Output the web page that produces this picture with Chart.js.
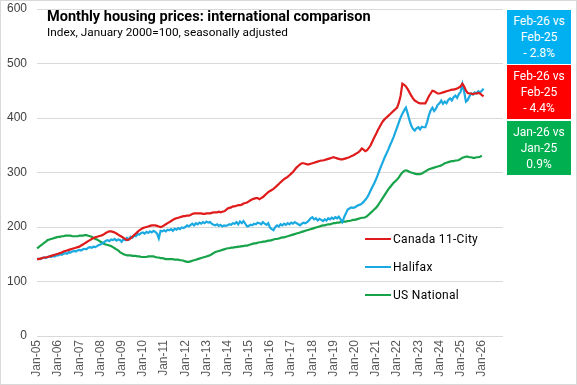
<!DOCTYPE html>
<html>
<head>
<meta charset="utf-8">
<script src="https://cdn.jsdelivr.net/npm/chart.js@4.4.1/dist/chart.umd.min.js"></script>
<style>
  html, body { margin: 0; padding: 0; background: #fff; }
  #wrap { position: relative; width: 577px; height: 385px; overflow: hidden; }
  #myChart { position: absolute; left: 0; top: 0; }
  .frame { position: absolute; left: 0; top: 0; width: 575px; height: 383px; border: 1px solid #d9d9d9; pointer-events: none; }
  .title { position: absolute; left: 47px; top: 10px; font: bold 14.5px Roboto, sans-serif; line-height: 1; color: #000; white-space: nowrap; }
  .subtitle { position: absolute; left: 47px; top: 27px; font: 11.8px Roboto, sans-serif; line-height: 1; color: #000; white-space: nowrap; }
  .legend { position: absolute; left: 365px; font: 12px Roboto, sans-serif; letter-spacing: 0.3px; color: #000; white-space: nowrap; line-height: 14px; }
  .legend span { display: inline-block; width: 26px; height: 2px; vertical-align: middle; margin-right: 2px; position: relative; top: -1px; }
  .box { position: absolute; left: 507px; width: 64px; height: 54px; color: #fff; font: 12px Roboto, sans-serif; line-height: 16px; text-align: center; padding-top: 3px; box-sizing: border-box; }
</style>
</head>
<body>
<div id="wrap">
  <canvas id="myChart" width="577" height="385"></canvas>
  <div class="title">Monthly housing prices: international comparison</div>
  <div class="subtitle">Index, January 2000=100, seasonally adjusted</div>
  <div class="legend" style="top:232px"><span style="background:#e01b1b"></span>Canada 11-City</div>
  <div class="legend" style="top:260px"><span style="background:#1ba9e1"></span>Halifax</div>
  <div class="legend" style="top:288px"><span style="background:#17a34a"></span>US National</div>
  <div class="box" style="top:10px;background:#00b0f0">Feb-26 vs<br>Feb-25<br>- 2.8%</div>
  <div class="box" style="top:65px;background:#ff0000">Feb-26 vs<br>Feb-25<br>- 4.4%</div>
  <div class="box" style="top:121px;background:#00b050">Jan-26 vs<br>Jan-25<br>0.9%</div>
  <div class="frame"></div>
</div>
<script>
const monthNames = ["Jan", "Feb", "Mar", "Apr", "May", "Jun", "Jul", "Aug", "Sep", "Oct", "Nov", "Dec"];
const lastTickLabel = "Jan-26";

// months Jan-05 .. Jan-27 (axis runs a bit past the data, like the original)
const months = [];
for (let y = 5; y <= 27; y++) {
  for (let m = 0; m < 12; m++) {
    if (y === 27 && m > 0) break;
    months.push(monthNames[m] + "-" + String(y).padStart(2, "0"));
  }
}

// Canada 11-City, Jan-05 .. Feb-26
const canada = [
  141, 141, 142, 143, 144, 144, 145, 146, 147, 148, 149, 150,
  151, 152, 153, 155, 156, 157, 158, 159, 160, 161, 162, 163,
  164, 166, 168, 170, 172, 174, 176, 178, 180, 181, 182, 183,
  184, 185, 187, 189, 191, 192, 192, 191, 190, 188, 186, 184,
  182, 180, 178, 176, 177, 179, 182, 185, 188, 191, 194, 196,
  198, 199, 200, 201, 202, 203, 203, 203, 202, 201, 200, 201,
  203, 205, 207, 209, 211, 213, 215, 216, 217, 218, 219, 220,
  220, 221, 221, 222, 224, 225, 225, 225, 225, 225, 224, 224,
  225, 225, 225, 226, 227, 227, 227, 228, 227, 228, 229, 231,
  234, 235, 236, 238, 238, 239, 240, 240, 241, 243, 244, 245,
  247, 249, 251, 252, 253, 253, 251, 253, 255, 258, 261, 264,
  266, 268, 270, 273, 276, 279, 282, 285, 288, 290, 292, 295,
  298, 301, 305, 309, 312, 315, 317, 317, 316, 315, 315, 316,
  317, 318, 319, 320, 321, 322, 322, 323, 324, 325, 326, 327,
  328, 327, 326, 325, 324, 324, 325, 326, 327, 328, 330, 331,
  333, 335, 337, 340, 344, 342, 339, 341, 345, 350, 357, 364,
  370, 377, 383, 389, 394, 398, 401, 404, 407, 410, 413, 416,
  419, 428, 441, 463, 461, 458, 453, 447, 441, 436, 432, 430,
  428, 427, 427, 427, 427, 433, 440, 445, 450, 449, 447, 445,
  445, 446, 447, 448, 449, 450, 451, 452, 452, 453, 454, 456,
  458, 463, 458, 450, 446, 445, 445, 444, 445, 445, 446, 445,
  442, 440
];

// Halifax, Jan-05 .. Feb-26
const halifax = [
  141, 142, 141, 143, 144, 143, 145, 146, 145, 147, 146, 148,
  148, 150, 149, 151, 152, 151, 154, 153, 155, 156, 155, 157,
  158, 157, 159, 160, 159, 162, 163, 162, 164, 163, 165, 167,
  168, 170, 172, 175, 176, 174, 177, 176, 178, 175, 177, 176,
  173, 178, 176, 180, 177, 182, 180, 184, 183, 187, 186, 189,
  190, 188, 191, 189, 192, 190, 193, 191, 188, 179, 193, 192,
  194, 192, 195, 194, 196, 193, 197, 195, 198, 196, 199, 198,
  200, 203, 201, 204, 206, 203, 207, 205, 208, 206, 209, 207,
  210, 208, 209, 206, 204, 203, 205, 202, 204, 201, 203, 202,
  203, 205, 204, 207, 206, 209, 205, 210, 207, 211, 206, 201,
  202, 204, 203, 206, 205, 208, 207, 205, 209, 206, 204, 207,
  199, 196, 194, 200, 203, 201, 205, 203, 206, 204, 207, 205,
  208, 206, 209, 207, 205, 203, 206, 208, 207, 209, 212, 216,
  218, 214, 216, 212, 215, 213, 211, 214, 212, 216, 214, 217,
  215, 218, 216, 219, 214, 209, 218, 225, 232, 234, 236, 235,
  236, 238, 240, 241, 243, 246, 250, 254, 260, 267, 274, 280,
  287, 295, 304, 312, 320, 328, 335, 342, 350, 357, 365, 374,
  383, 392, 401, 408, 414, 419, 408, 396, 386, 380, 377, 381,
  383, 379, 384, 383, 383, 392, 405, 414, 419, 413, 417, 424,
  427, 432, 426, 430, 427, 433, 436, 432, 438, 441, 437, 444,
  448, 462, 448, 430, 433, 440, 445, 443, 447, 445, 449, 447,
  450, 454
];

// US National (Case-Shiller), Jan-05 .. Jan-26
const usNational = [
  161, 163, 166, 168, 171, 173, 176, 177, 178, 179, 180, 181,
  182, 182, 183, 183, 184, 184, 184, 184, 183, 183, 183, 183,
  184, 184, 184, 185, 185, 184, 183, 182, 180, 178, 177, 175,
  173, 171, 169, 168, 167, 166, 165, 163, 161, 159, 157, 154,
  152, 150, 149, 148, 148, 148, 147, 147, 147, 146, 146, 145,
  145, 145, 145, 146, 146, 146, 146, 145, 144, 144, 143, 143,
  142, 141, 141, 141, 141, 141, 140, 140, 140, 139, 139, 138,
  137, 136, 136, 137, 138, 139, 140, 141, 142, 143, 144, 145,
  146, 147, 148, 150, 152, 154, 155, 156, 157, 158, 159, 160,
  161, 161, 162, 162, 163, 163, 164, 164, 165, 165, 166, 166,
  167, 168, 169, 170, 170, 171, 172, 172, 173, 173, 174, 175,
  175, 176, 177, 178, 178, 179, 180, 181, 181, 182, 183, 184,
  185, 186, 187, 188, 189, 190, 191, 192, 193, 194, 195, 196,
  197, 198, 199, 200, 201, 202, 203, 203, 204, 205, 205, 206,
  207, 207, 208, 208, 209, 209, 210, 210, 211, 211, 212, 213,
  213, 214, 215, 216, 217, 217, 218, 220, 223, 226, 229, 232,
  235, 239, 244, 249, 254, 259, 264, 269, 273, 277, 281, 284,
  287, 291, 296, 300, 303, 304, 303, 301, 300, 299, 298, 297,
  297, 297, 298, 300, 302, 304, 306, 307, 308, 309, 310, 311,
  312, 313, 315, 317, 318, 319, 320, 321, 321, 322, 322, 323,
  325, 327, 328, 329, 329, 328, 328, 327, 327, 328, 328, 329,
  331
];

const lastTickIndex = months.indexOf(lastTickLabel);

const data = {
  labels: months,
  datasets: [
    { label: "Canada 11-City", data: canada, borderColor: "#e01b1b", backgroundColor: "#e01b1b" },
    { label: "Halifax", data: halifax, borderColor: "#1ba9e1", backgroundColor: "#1ba9e1" },
    { label: "US National", data: usNational, borderColor: "#17a34a", backgroundColor: "#17a34a" }
  ]
};

const config = {
  type: "line",
  data: data,
  options: {
    responsive: false,
    animation: false,
    events: [],
    elements: {
      point: { radius: 0 },
      line: { borderWidth: 2.2, tension: 0 }
    },
    layout: { padding: { top: 9, right: 74, left: 0, bottom: 0 } },
    plugins: { legend: { display: false }, tooltip: { enabled: false } },
    scales: {
      x: {
        offset: false,
        grid: { display: false, drawTicks: false },
        border: { display: false },
        afterFit: function (scale) {
          scale.height = 49;
          scale.paddingLeft = 0;
          scale.paddingRight = 0;
        },
        ticks: {
          autoSkip: false,
          minRotation: 90,
          maxRotation: 90,
          padding: 4,
          color: "#595959",
          font: { family: "'Liberation Sans', Arial, sans-serif", size: 12 },
          callback: function (val, i) {
            const l = this.getLabelForValue(val);
            return (l.startsWith("Jan") && i <= lastTickIndex) ? l : null;
          }
        }
      },
      y: {
        min: 0,
        max: 600,
        grid: { color: "#d9d9d9", drawTicks: false },
        border: { display: false },
        afterFit: function (scale) {
          scale.width = 37;
          scale.paddingTop = 0;
          scale.paddingBottom = 0;
        },
        ticks: {
          stepSize: 100,
          padding: 10,
          color: "#404040",
          font: { family: "'Liberation Sans', Arial, sans-serif", size: 12 }
        }
      }
    }
  }
};

let myChart = new Chart(document.getElementById("myChart"), config);
</script>
</body>
</html>
